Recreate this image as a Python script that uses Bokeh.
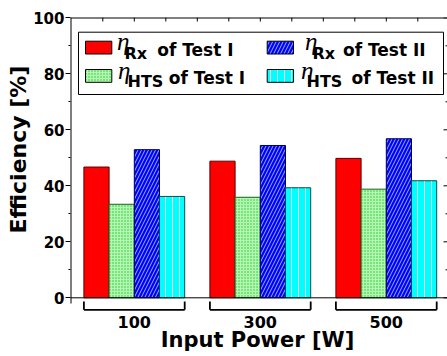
import math
from bokeh.plotting import figure
from bokeh.models import (Range1d, FixedTicker, BoxAnnotation, Label, Title,
                          ColumnDataSource)
from bokeh.core.properties import value
from bokeh.embed import file_html
from bokeh.resources import INLINE

# ---- data -------------------------------------------------------------
power_labels = ["100", "300", "500"]          # input power [W]
rx_test1 = [46.7, 48.8, 49.8]                 # eta_Rx, Test I  [%]
hts_test1 = [33.4, 35.9, 38.8]                # eta_HTS, Test I [%]
rx_test2 = [52.9, 54.4, 56.8]                 # eta_Rx, Test II [%]
hts_test2 = [36.2, 39.3, 41.8]                # eta_HTS, Test II [%]
y_ticks = [0, 20, 40, 60, 80, 100]
y_minor = [10, 30, 50, 70, 90]

# ---- layout constants (pixels) ------------------------------------------
W, H = 447, 356
LEFT, TOP = 70, 17
PX_PER_GROUP = 126.0
PX_PER_PCT = 2.8
X0_PX = 133.8      # pixel column of the first group centre
Y0_PX = 297.3      # pixel row of 0 %

def dx(px):
    return (px - X0_PX) / PX_PER_GROUP

def dy(py):
    return (Y0_PX - py) / PX_PER_PCT

x_start, x_end = dx(LEFT), dx(W)
y_start, y_end = dy(H), dy(TOP)

FONT = "DejaVu Sans"

p = figure(width=W, height=H, x_range=Range1d(x_start, x_end),
           y_range=Range1d(y_start, y_end), x_axis_location=None,
           y_axis_location="left", toolbar_location=None,
           output_backend="svg", min_border_left=LEFT, min_border_right=0,
           min_border_top=TOP, min_border_bottom=0)
p.outline_line_color = None
p.xgrid.visible = False
p.ygrid.visible = False
p.background_fill_color = "white"

groups = list(range(len(power_labels)))
bar_w = 0.2
series = [
    dict(vals=rx_test1, off=-0.3, fill="#ff0000", line="#5a0000", hatch=None),
    dict(vals=hts_test1, off=-0.1, fill="#b4f7b4", line="#1d5e1d", hatch=("dot", "#1fc81f", 3)),
    dict(vals=rx_test2, off=0.1, fill="#0000ff", line="#00004a", hatch=("right_diagonal_line", "#9ab4ff", 7)),
    dict(vals=hts_test2, off=0.3, fill="#00ffff", line="#0d4a4a", hatch=("vertical_line", "#e8ffff", 7)),
]

def hatch_kw(s):
    if not s["hatch"]:
        return {}
    return dict(hatch_pattern=s["hatch"][0], hatch_color=s["hatch"][1],
                hatch_scale=s["hatch"][2], hatch_weight=1)

for s in series:
    src = ColumnDataSource(dict(x=[g + s["off"] for g in groups], top=s["vals"]))
    p.vbar(x="x", top="top", bottom=0, width=bar_w, source=src,
           fill_color=s["fill"], line_color=s["line"], line_width=1, **hatch_kw(s))

# zero line, left and top frame lines
p.segment(x0=[x_start], y0=[0], x1=[x_end], y1=[0], line_color="black", line_width=1)
p.segment(x0=[x_start], y0=[dy(303)], x1=[x_start], y1=[y_end], line_color="black", line_width=2)
p.segment(x0=[x_start], y0=[y_end], x1=[x_end], y1=[y_end], line_color="black", line_width=2)

# inward ticks along the top edge and the right edge
top_ticks = [-0.25 + 0.25 * i for i in range(11)]
tick_dy = 4 / PX_PER_PCT
p.segment(x0=top_ticks, y0=[y_end] * len(top_ticks), x1=top_ticks,
          y1=[y_end - tick_dy] * len(top_ticks), line_color="black", line_width=1)
p.segment(x0=[x_end - 4 / PX_PER_GROUP] * len(y_ticks), y0=y_ticks,
          x1=[x_end] * len(y_ticks), y1=y_ticks, line_color="black", line_width=1)
p.segment(x0=[x_end - 2 / PX_PER_GROUP] * len(y_minor), y0=y_minor,
          x1=[x_end] * len(y_minor), y1=y_minor, line_color="black", line_width=1)

# group brackets under the bars
br_lo, br_hi = dy(309.3), dy(301)
for g in groups:
    p.segment(x0=[g - 0.4, g - 0.4, g + 0.4], y0=[br_lo, br_lo, br_lo],
              x1=[g + 0.4, g - 0.4, g + 0.4], y1=[br_lo, br_hi, br_hi],
              line_color="black", line_width=1.8)

# category labels and x title
p.text(x=groups, y=[dy(321)] * len(groups), text=power_labels,
       text_font=value(FONT), text_font_style="bold", text_font_size="16px",
       text_align="center", text_baseline="middle", text_color="black")
p.text(x=[dx(257)], y=[dy(339.5)], text=["Input Power [W]"],
       text_font=value(FONT), text_font_style="bold", text_font_size="21px",
       text_align="center", text_baseline="middle", text_color="black")

# left axis
ya = p.yaxis[0]
ya.ticker = FixedTicker(ticks=y_ticks, minor_ticks=y_minor)
ya.axis_line_color = None
ya.major_tick_out = 5
ya.major_tick_in = 0
ya.minor_tick_out = 2
ya.minor_tick_in = 0
ya.major_label_standoff = 1
ya.major_label_text_font = FONT
ya.major_label_text_font_style = "bold"
ya.major_label_text_font_size = "15px"
ya.major_label_text_color = "black"

# y title
p.add_layout(Title(text="Efficiency [%]", align="left", offset=123,
                   text_font=FONT, text_font_style="bold", text_font_size="22px",
                   text_color="black", standoff=0), "left")

# legend box
p.add_layout(BoxAnnotation(left=dx(78), right=dx(443), top=dy(31.7), bottom=dy(94),
                           fill_color="white", fill_alpha=1, line_color="black",
                           line_width=1, line_alpha=1, level="annotation"))

legend_items = [
    # series index, swatch left px, swatch top px, eta x px, sub text, sub x px, main x px, main text, row
    (0, 85, 40.7, 116.5, "Rx", 124, 156.7, "of Test I", 0),
    (1, 85, 69.0, 117.5, "HTS", 127, 168.3, "of Test I", 1),
    (2, 266.7, 40.7, 304.5, "Rx", 312, 342.5, "of Test II", 0),
    (3, 266.7, 69.0, 300.5, "HTS", 306, 351.0, "of Test II", 1),
]
for idx, sl, st, ex, sub, sx, mx, main, row in legend_items:
    s = series[idx]
    p.add_layout(BoxAnnotation(left=dx(sl), right=dx(sl + 26.3), top=dy(st), bottom=dy(st + 12.8),
                               fill_color=s["fill"], fill_alpha=1, line_color="black",
                               line_width=1, line_alpha=1, level="annotation", **hatch_kw(s)))
    shift = 28.5 * row
    p.add_layout(Label(x=dx(ex), y=dy(41 + shift), text="\u03b7", text_font="Liberation Serif",
                       text_font_style="italic", text_font_size="25px", text_color="black",
                       text_baseline="middle"))
    p.add_layout(Label(x=dx(sx), y=dy(52.8 + shift), text=sub, text_font=FONT,
                       text_font_style="bold", text_font_size="16px", text_color="black",
                       text_baseline="middle"))
    p.add_layout(Label(x=dx(mx), y=dy(49.3 + shift), text=main, text_font=FONT,
                       text_font_style="bold", text_font_size="17px", text_color="black",
                       text_baseline="middle"))

open("out.html", "w").write(file_html(p, INLINE))
